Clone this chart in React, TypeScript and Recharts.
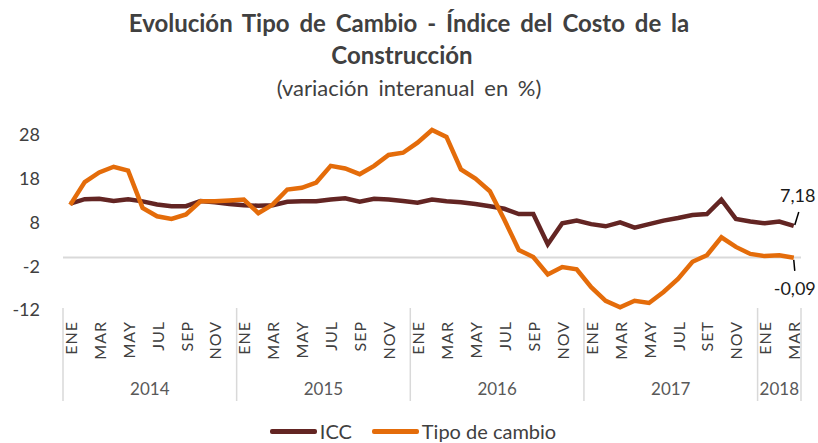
import { LineChart, Line, XAxis, YAxis, ReferenceLine, Legend, LabelList } from "recharts";

const FONT = "Lato, 'Open Sans', sans-serif";

const years = ["2014", "2015", "2016", "2017", "2018"];
const monthsInYear = [12, 12, 12, 12, 3];
const monthNames = ["ENE", "FEB", "MAR", "ABR", "MAY", "JUN", "JUL", "AGO", "SEP", "OCT", "NOV", "DIC"];
// 2017 uses "SET" for September in the source chart
const monthNames2017 = ["ENE", "FEB", "MAR", "ABR", "MAY", "JUN", "JUL", "AGO", "SET", "OCT", "NOV", "DIC"];

const icc = [
  12.3, 13.3, 13.4, 12.9, 13.3, 12.8, 12.1, 11.7, 11.7, 12.9, 12.6, 12.2,
  11.9, 11.8, 11.9, 12.7, 12.8, 12.8, 13.2, 13.5, 12.7, 13.4, 13.2, 12.9,
  12.5, 13.2, 12.8, 12.6, 12.2, 11.7, 11.1, 9.9, 9.9, 3.0, 7.8, 8.4,
  7.6, 7.1, 8.0, 6.8, 7.6, 8.4, 9.0, 9.7, 9.9, 13.2, 8.8, 8.2,
  7.8, 8.2, 7.18,
];
const tipoCambio = [
  12.0, 17.2, 19.4, 20.7, 19.8, 11.3, 9.4, 8.8, 9.8, 12.8, 12.8, 13.0,
  13.2, 10.1, 12.1, 15.5, 15.9, 17.1, 20.9, 20.3, 19.0, 20.9, 23.4, 23.9,
  26.2, 29.1, 27.5, 20.1, 18.0, 15.1, 8.6, 1.7, 0.1, -3.9, -2.2, -2.7,
  -6.8, -9.9, -11.4, -9.9, -10.4, -7.9, -4.9, -1.0, 0.5, 4.6, 2.4, 0.8,
  0.3, 0.5, -0.09,
];
const yTicks = [-12, -2, 8, 18, 28];

const chartData: any[] = [];
years.forEach((year, yi) => {
  const names = year === "2017" ? monthNames2017 : monthNames;
  for (let m = 0; m < monthsInYear[yi]; m++) {
    const i = chartData.length;
    chartData.push({
      key: `${year}-${m + 1}`,
      month: names[m],
      year,
      first: m === 0,
      count: monthsInYear[yi],
      icc: icc[i],
      tipo: tipoCambio[i],
    });
  }
});

const W = 818;
const H = 443;
const LEFT = 63;
const RIGHT = 17;
const HALF = (W - LEFT - RIGHT) / chartData.length / 2;
const LAST = chartData.length - 1;

const fmt = (v: number) => v.toFixed(2).replace(".", ",");

const MonthTick = ({ x, y, index }: any) => {
  const row = chartData[index];
  if (!row) return null;
  const left = x - HALF;
  return (
    <g>
      {index % 2 === 0 && (
        <text
          transform={`translate(${x},${y + 11}) rotate(-90)`}
          textAnchor="end"
          dominantBaseline="central"
          fontSize={16}
          fontFamily={FONT}
          fill="#404040"
          letterSpacing={1}
        >
          {row.month}
        </text>
      )}
      {row.first && (
        <>
          <line x1={left} x2={left} y1={y - 2} y2={y + 91} stroke="#d9d9d9" strokeWidth={1.5} />
          <text
            x={left + row.count * HALF}
            y={y + 78}
            textAnchor="middle"
            dominantBaseline="central"
            fontSize={17}
            fontFamily={FONT}
            fill="#595959"
          >
            {row.year}
          </text>
        </>
      )}
      {index === LAST && (
        <line x1={x + HALF} x2={x + HALF} y1={y - 2} y2={y + 91} stroke="#d9d9d9" strokeWidth={1.5} />
      )}
    </g>
  );
};

const EndLabel = ({ x, y, index, value, up }: any) => {
  if (index !== LAST) return null;
  return (
    <g>
      {up ? (
        <line x1={x + 1} y1={y - 1} x2={x + 5} y2={y - 14} stroke="#000" strokeWidth={1.5} />
      ) : (
        <line x1={x} y1={y + 2} x2={x + 1} y2={y + 13} stroke="#000" strokeWidth={1.5} />
      )}
      <text
        x={up ? x + 4 : x + 1}
        y={up ? y - 31 : y + 30}
        textAnchor="middle"
        dominantBaseline="central"
        fontSize={18}
        fontFamily={FONT}
        fill="#1a1a1a"
      >
        {fmt(Number(value))}
      </text>
    </g>
  );
};

const LegendContent = ({ payload }: any) => (
  <div
    style={{
      display: "flex",
      justifyContent: "center",
      gap: 20,
      fontFamily: FONT,
      fontSize: 20,
      color: "#404040",
      paddingLeft: 8,
    }}
  >
    {(payload || []).map((p: any) => (
      <span key={p.value} style={{ display: "flex", alignItems: "center" }}>
        <span
          style={{
            display: "inline-block",
            width: 47,
            height: 5,
            background: p.color,
            borderRadius: 2,
            marginRight: 3,
          }}
        />
        {p.value}
      </span>
    ))}
  </div>
);

export default function App() {
  return (
    <div style={{ position: "absolute", left: 0, top: 0, width: W, height: H, background: "#fff" }}>
      <div
        style={{
          position: "absolute",
          top: 7,
          left: 0,
          width: W,
          textAlign: "center",
          fontFamily: FONT,
          color: "#404040",
          lineHeight: "32px",
        }}
      >
        <div style={{ fontWeight: 700, fontSize: 24, wordSpacing: 4 }}>
          Evolución Tipo de Cambio - Índice del Costo de la
        </div>
        <div style={{ fontWeight: 700, fontSize: 24, marginLeft: -14 }}>Construcción</div>
        <div style={{ fontSize: 22, marginTop: 1, wordSpacing: 4 }}>(variación interanual en %)</div>
      </div>
      <LineChart
        width={W}
        height={H}
        data={chartData}
        margin={{ top: 126, right: RIGHT, bottom: 0, left: 0 }}
        style={{ position: "absolute", left: 0, top: 0 }}
      >
        <XAxis
          dataKey="key"
          interval={0}
          height={133}
          axisLine={false}
          tickLine={false}
          tickSize={0}
          tickMargin={0}
          padding={{ left: HALF, right: HALF }}
          tick={<MonthTick />}
        />
        <YAxis
          width={LEFT}
          domain={[-12, 30]}
          ticks={yTicks}
          axisLine={false}
          tickLine={false}
          tickSize={0}
          tickMargin={23}
          tick={{ fontSize: 18, fontFamily: FONT, fill: "#404040" }}
        />
        <ReferenceLine y={0} stroke="#d9d9d9" strokeWidth={2} />
        <Line
          name="ICC"
          dataKey="icc"
          stroke="#632523"
          strokeWidth={4.5}
          dot={false}
          isAnimationActive={false}
        >
          <LabelList dataKey="icc" content={(p: any) => <EndLabel {...p} up />} />
        </Line>
        <Line
          name="Tipo de cambio"
          dataKey="tipo"
          stroke="#E46C0A"
          strokeWidth={4.5}
          dot={false}
          isAnimationActive={false}
        >
          <LabelList dataKey="tipo" content={(p: any) => <EndLabel {...p} up={false} />} />
        </Line>
        <Legend
          verticalAlign="middle"
          layout="horizontal"
          content={<LegendContent />}
          wrapperStyle={{ position: "absolute", top: 419, left: 0, width: W }}
        />
      </LineChart>
    </div>
  );
}
